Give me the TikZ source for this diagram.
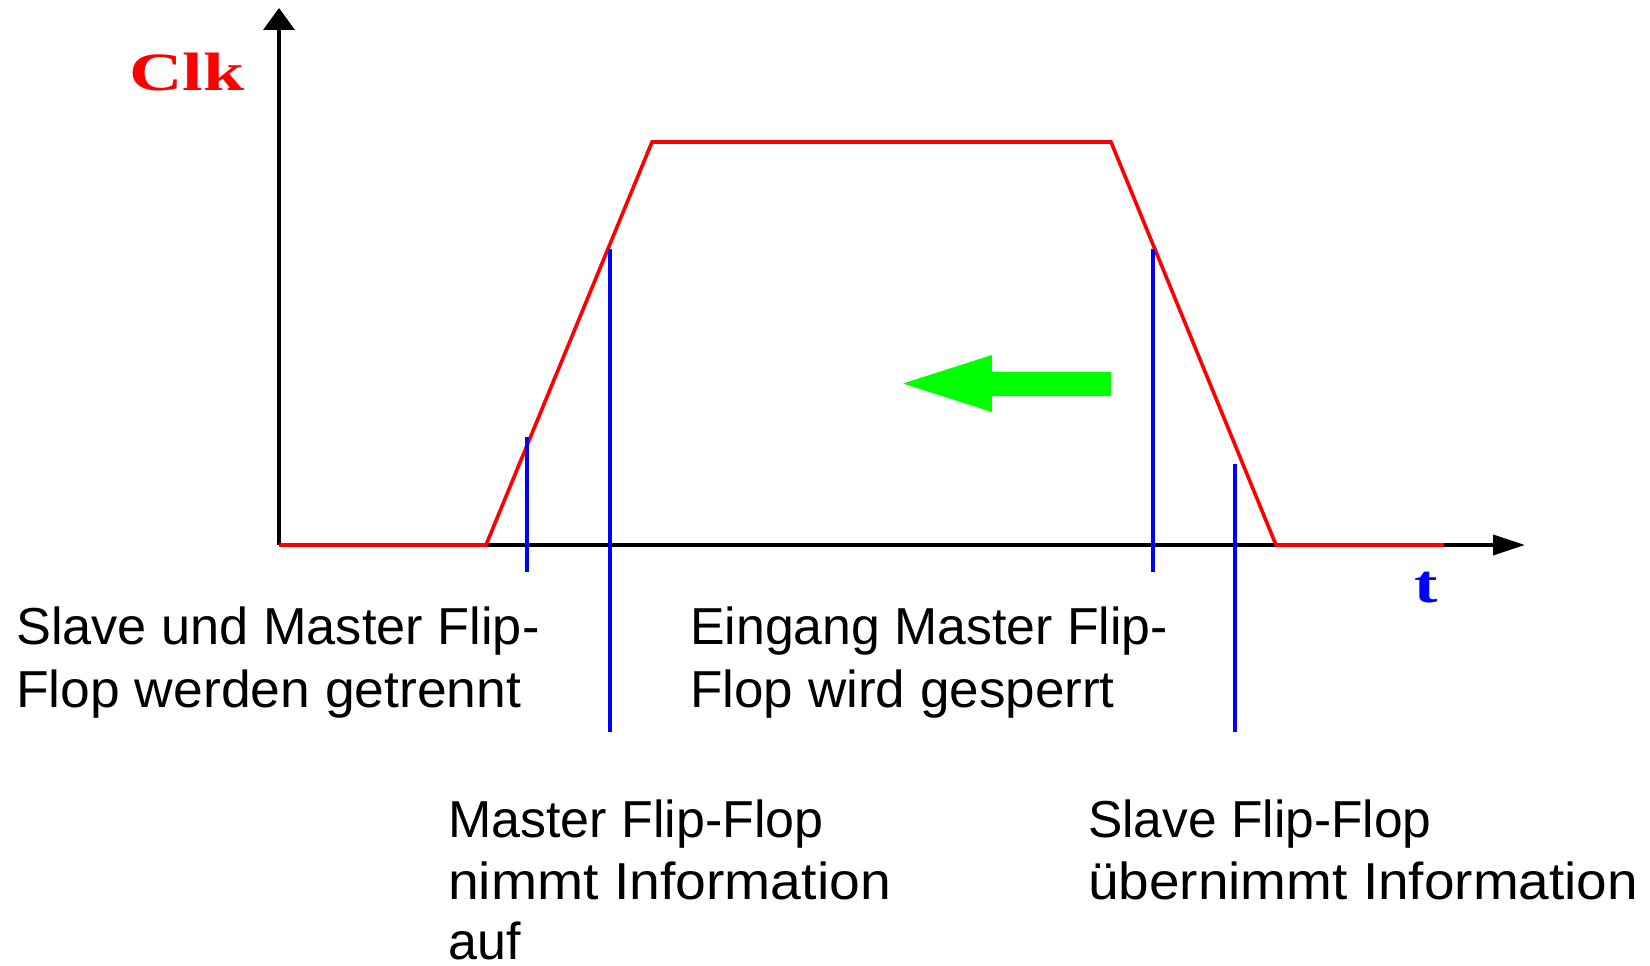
\documentclass[tikz,border=0pt]{standalone}
\usepackage{fontspec}
\usepackage{graphicx}
\setmainfont{Liberation Sans}
\newfontfamily\clkfont{Liberation Serif}
\usetikzlibrary{arrows.meta}
\begin{document}
\begin{tikzpicture}[x=1pt,y=-1pt,
  axis/.style={line width=3.8pt, black},
  clkline/.style={line width=3.6pt, red, line join=miter},
  marker/.style={line width=4.5pt, blue},
  lbl/.style={anchor=base west, inner sep=0pt, font=\fontsize{52}{63}\selectfont},
  arrowfill/.style={fill={rgb,255:red,0;green,255;blue,0}, draw=none}
]
\useasboundingbox[fill=white] (0,0) rectangle (1650,966);

% coordinates
\coordinate (O) at (279,545);
\coordinate (yend) at (279,8);
\coordinate (xend) at (1525,545);
\coordinate (c1) at (486,545);
\coordinate (c2) at (652,142);
\coordinate (c3) at (1111,142);
\coordinate (c4) at (1276,545);
\coordinate (c5) at (1444,545);

% axes
\draw[axis, -{Triangle[length=22pt,width=31pt]}] (O) -- (yend);
\draw[axis, -{Triangle[length=32pt,width=20pt]}] (O) -- (xend);

% clock signal
\draw[clkline] (O) -- (c1) -- (c2) -- (c3) -- (c4) -- (c5);

% markers
\coordinate (m1t) at (527,437); \coordinate (m1b) at (527,572);
\coordinate (m2t) at (610,249); \coordinate (m2b) at (610,732);
\coordinate (m3t) at (1153,249); \coordinate (m3b) at (1153,572);
\coordinate (m4t) at (1235,464); \coordinate (m4b) at (1235,732);
\draw[marker] (m1t) -- (m1b);
\draw[marker] (m2t) -- (m2b);
\draw[marker] (m3t) -- (m3b);
\draw[marker] (m4t) -- (m4b);

% green arrow
\fill[arrowfill] (1111,372) -- (992,372) -- (992,355) -- (903,383.5) -- (992,412) -- (992,396) -- (1111,396) -- cycle;

% axis labels
\node[anchor=base west, inner sep=0pt, text=red, font=\clkfont\bfseries\fontsize{54}{54}\selectfont] (clk) at (129,91) {\scalebox{1.37}[1]{Clk}};
\node[anchor=base west, inner sep=0pt, text=blue, font=\clkfont\bfseries\fontsize{54}{54}\selectfont] (t) at (1414,602) {\scalebox{1.3}[1]{t}};

% text labels
\node[lbl] (a1) at (16,644) {\scalebox{1.006}[1]{Slave und Master Flip-}};
\node[lbl] (a2) at (16,707) {\scalebox{1.028}[1]{Flop werden getrennt}};
\node[lbl] (b1) at (690,644) {\scalebox{0.996}[1]{Eingang Master Flip-}};
\node[lbl] (b2) at (690,707) {\scalebox{1.02}[1]{Flop wird gesperrt}};
\node[lbl] (c1t) at (448,837) {Master Flip-Flop};
\node[lbl] (c2t) at (448,899) {\scalebox{1.064}[1]{nimmt Information}};
\node[lbl] (c3t) at (448,959) {auf};
\node[lbl] (d1) at (1088,837) {\scalebox{0.99}[1]{Slave Flip-Flop}};
\node[lbl] (d2) at (1088,899) {\scalebox{1.057}[1]{übernimmt Information}};
\end{tikzpicture}
\end{document}
